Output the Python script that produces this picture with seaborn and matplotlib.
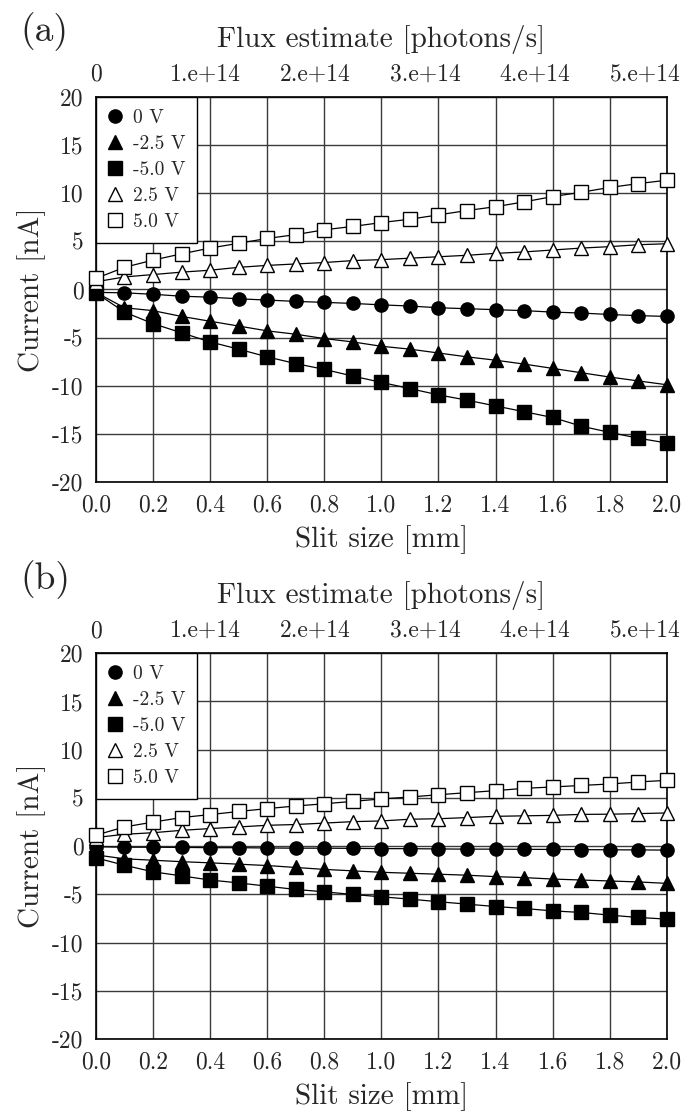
import numpy as np
import pandas as pd
import seaborn as sns
import matplotlib.pyplot as plt
from matplotlib.lines import Line2D

sns.set_style("white")
plt.rcParams.update(
    {
        "font.family": "serif",
        "font.serif": ["cmr10", "DejaVu Serif"],
        "axes.unicode_minus": False,
        "mathtext.fontset": "cm",
    }
)

# slit size [mm]
slit = [0.0, 0.1, 0.2, 0.3, 0.4, 0.5, 0.6, 0.7, 0.8, 0.9, 1.0,
        1.1, 1.2, 1.3, 1.4, 1.5, 1.6, 1.7, 1.8, 1.9, 2.0]

# panel (a) currents [nA]
a_0v = [-0.3, -0.35, -0.5, -0.7, -0.8, -0.97, -1.1, -1.24, -1.34, -1.45, -1.6,
        -1.72, -1.9, -2.0, -2.1, -2.2, -2.35, -2.45, -2.6, -2.72, -2.8]
a_m25 = [-0.3, -1.9, -2.2, -2.8, -3.3, -3.8, -4.3, -4.65, -5.1, -5.45, -5.9,
         -6.2, -6.6, -7.0, -7.35, -7.75, -8.2, -8.65, -9.1, -9.5, -9.9]
a_m50 = [-0.35, -2.35, -3.55, -4.5, -5.45, -6.2, -7.0, -7.7, -8.3, -9.0, -9.65,
         -10.3, -10.95, -11.5, -12.1, -12.7, -13.3, -14.2, -14.85, -15.45, -15.95]
a_p25 = [0.8, 1.3, 1.55, 1.8, 2.0, 2.3, 2.5, 2.65, 2.8, 3.0, 3.1,
         3.25, 3.4, 3.55, 3.75, 3.9, 4.1, 4.3, 4.45, 4.65, 4.75]
a_p50 = [1.15, 2.3, 3.05, 3.7, 4.3, 4.8, 5.3, 5.7, 6.2, 6.55, 6.95,
         7.3, 7.75, 8.2, 8.6, 9.1, 9.65, 10.1, 10.6, 11.0, 11.35]

# panel (b) currents [nA]
b_0v = [-0.05, -0.1, -0.1, -0.12, -0.15, -0.15, -0.18, -0.2, -0.2, -0.22, -0.25,
        -0.25, -0.28, -0.3, -0.3, -0.32, -0.33, -0.35, -0.37, -0.38, -0.4]
b_m25 = [-0.9, -1.3, -1.45, -1.6, -1.72, -1.86, -2.0, -2.2, -2.4, -2.55, -2.7,
         -2.8, -2.9, -3.0, -3.15, -3.25, -3.4, -3.5, -3.6, -3.7, -3.85]
b_m50 = [-1.2, -1.97, -2.65, -3.07, -3.5, -3.8, -4.14, -4.48, -4.72, -5.0, -5.24,
         -5.48, -5.75, -6.0, -6.25, -6.45, -6.7, -6.86, -7.14, -7.38, -7.55]
b_p25 = [0.9, 1.24, 1.4, 1.65, 1.83, 2.0, 2.17, 2.25, 2.4, 2.55, 2.62,
         2.8, 2.85, 2.97, 3.1, 3.15, 3.2, 3.3, 3.32, 3.38, 3.45]
b_p50 = [1.15, 2.0, 2.5, 2.97, 3.28, 3.6, 3.9, 4.17, 4.4, 4.65, 4.9,
         5.1, 5.34, 5.55, 5.76, 6.0, 6.14, 6.3, 6.45, 6.66, 6.83]

bias_labels = ["0 V", "-2.5 V", "-5.0 V", "2.5 V", "5.0 V"]
markers = ["o", "^", "s", "^", "s"]
faces = ["black", "black", "black", "white", "white"]

flux_ticks = [0, 1e14, 2e14, 3e14, 4e14, 5e14]
flux_labels = ["0", "1.e+14", "2.e+14", "3.e+14", "4.e+14", "5.e+14"]
flux_per_mm = 2.6e14

x_ticks = [0.0, 0.2, 0.4, 0.6, 0.8, 1.0, 1.2, 1.4, 1.6, 1.8, 2.0]
y_ticks = [20, 15, 10, 5, 0, -5, -10, -15, -20]


def make_frame(series):
    rows = []
    for label, values in zip(bias_labels, series):
        for s, c in zip(slit, values):
            rows.append({"slit": s, "current": c, "bias": label})
    return pd.DataFrame(rows)


def draw_panel(ax, data):
    for label, m, fc in zip(bias_labels, markers, faces):
        sub = data[data["bias"] == label]
        sns.lineplot(
            data=sub, x="slit", y="current", ax=ax, color="black",
            lw=0.9, marker=m, markersize=9.5, markerfacecolor=fc,
            markeredgecolor="black", markeredgewidth=1.0, legend=False,
            zorder=3, clip_on=False,
        )

    ax.set_xlim(0, 2.0)
    ax.set_ylim(-20, 20)
    ax.set_xticks(x_ticks)
    ax.set_xticklabels([f"{t:.1f}" for t in x_ticks])
    ax.set_yticks(y_ticks)
    ax.set_yticklabels([str(t) for t in y_ticks])
    ax.tick_params(axis="x", length=0, labelsize=17, pad=9)
    ax.tick_params(axis="y", length=0, labelsize=17, pad=9)
    ax.grid(True, color="#3a3a3a", lw=1.0)
    for sp in ax.spines.values():
        sp.set_color("black")
        sp.set_linewidth(1.2)
    ax.set_xlabel("Slit size [mm]", fontsize=21, labelpad=6)
    ax.set_ylabel("Current [nA]", fontsize=21, labelpad=4)

    top = ax.secondary_xaxis(
        "top", functions=(lambda x: x * flux_per_mm, lambda f: f / flux_per_mm)
    )
    top.set_xticks(flux_ticks)
    top.set_xticklabels(flux_labels)
    top.tick_params(length=0, labelsize=17, pad=8)
    top.set_xlabel("Flux estimate [photons/s]", fontsize=21, labelpad=12)

    handles = [
        Line2D([], [], marker=m, linestyle="none", color="black",
               markerfacecolor=fc, markeredgecolor="black", markersize=9.5)
        for m, fc in zip(markers, faces)
    ]
    leg = ax.legend(
        handles, bias_labels, loc="upper left", borderaxespad=0,
        fontsize=14, frameon=True, fancybox=False, framealpha=1,
        edgecolor="black", handlelength=0.8, handletextpad=0.5,
        labelspacing=0.42, borderpad=0.6,
    )
    leg.get_frame().set_linewidth(1.0)
    leg.set_zorder(5)


fig = plt.figure(figsize=(7.0, 11.17), dpi=100)
ax_a = fig.add_axes([0.137, 0.5685, 0.8157, 0.3447])
ax_b = fig.add_axes([0.137, 0.0696, 0.8157, 0.3456])

draw_panel(ax_a, make_frame([a_0v, a_m25, a_m50, a_p25, a_p50]))
draw_panel(ax_b, make_frame([b_0v, b_m25, b_m50, b_p25, b_p50]))

fig.text(20 / 700, 1 - 12 / 1117, "(a)", fontsize=27, va="top", ha="left")
fig.text(20 / 700, 1 - 560 / 1117, "(b)", fontsize=27, va="top", ha="left")

fig.savefig("out.png", dpi=100)
